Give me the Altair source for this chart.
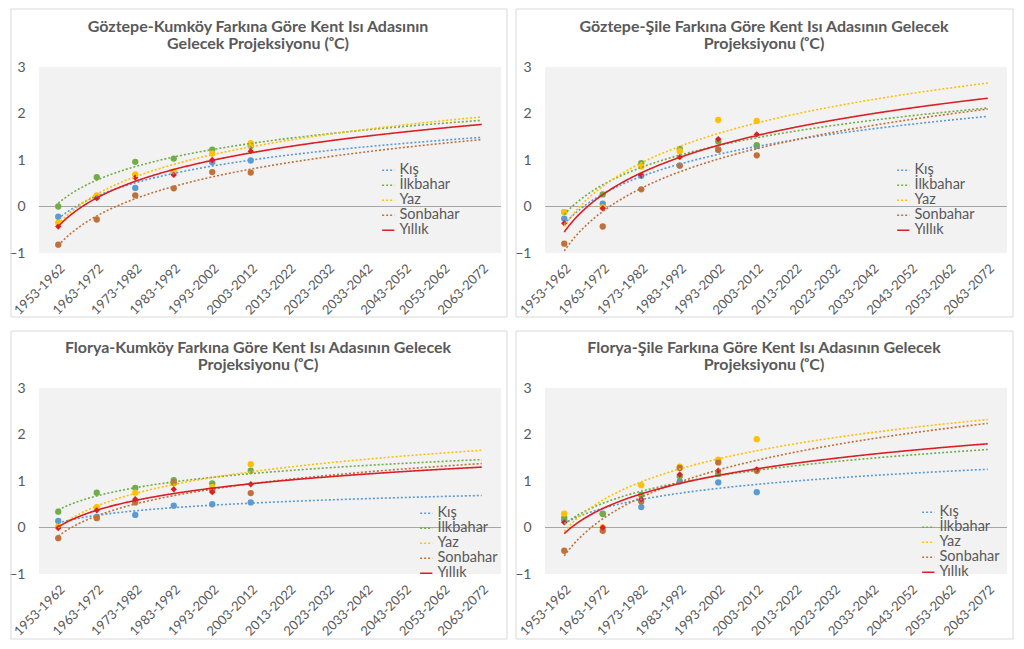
import json
import altair as alt
import pandas as pd

PERIODS = ["1953-1962", "1963-1972", "1973-1982", "1983-1992", "1993-2002", "2003-2012",
           "2013-2022", "2023-2032", "2033-2042", "2043-2052", "2053-2062", "2063-2072"]
SERIES = ["Kış", "İlkbahar", "Yaz", "Sonbahar", "Yıllık"]
COLORS = ["#5B9BD5", "#70AD47", "#FFC000", "#C0713A", "#DA1F26"]

# Göztepe-Kumköy
GK_KIS = [-0.22, 0.20, 0.40, 0.73, 0.95, 0.99]
GK_ILKBAHAR = [0.00, 0.63, 0.96, 1.03, 1.22, 1.30]
GK_YAZ = [-0.35, 0.24, 0.69, 0.75, 1.14, 1.36]
GK_SONBAHAR = [-0.82, -0.28, 0.24, 0.39, 0.74, 0.73]
GK_YILLIK = [-0.43, 0.18, 0.62, 0.68, 1.00, 1.19]

# Göztepe-Şile
GS_KIS = [-0.26, 0.06, 0.66, 0.88, 1.22, 1.30]
GS_ILKBAHAR = [-0.12, 0.26, 0.93, 1.24, 1.40, 1.32]
GS_YAZ = [-0.12, -0.02, 0.86, 1.19, 1.86, 1.84]
GS_SONBAHAR = [-0.80, -0.43, 0.37, 0.88, 1.22, 1.10]
GS_YILLIK = [-0.36, -0.04, 0.67, 1.06, 1.45, 1.55]

# Florya-Kumköy
FK_KIS = [0.14, 0.23, 0.27, 0.47, 0.50, 0.54]
FK_ILKBAHAR = [0.34, 0.75, 0.85, 1.02, 0.95, 1.22]
FK_YAZ = [0.02, 0.44, 0.75, 0.95, 0.87, 1.36]
FK_SONBAHAR = [-0.23, 0.20, 0.54, 0.97, 0.80, 0.74]
FK_YILLIK = [-0.01, 0.37, 0.61, 0.82, 0.76, 0.93]

# Florya-Şile
FS_KIS = [0.15, 0.30, 0.44, 0.99, 0.97, 0.76]
FS_ILKBAHAR = [0.21, 0.29, 0.70, 1.10, 1.15, 1.23]
FS_YAZ = [0.30, 0.00, 0.91, 1.31, 1.46, 1.90]
FS_SONBAHAR = [-0.50, -0.07, 0.56, 1.28, 1.40, 1.22]
FS_YILLIK = [0.11, 0.00, 0.61, 1.14, 1.22, 1.25]

TITLES = [
    ["Göztepe-Kumköy Farkına Göre Kent Isı Adasının", "Gelecek Projeksiyonu (ᵒC)"],
    ["Göztepe-Şile Farkına Göre Kent Isı Adasının Gelecek", "Projeksiyonu (ᵒC)"],
    ["Florya-Kumköy Farkına Göre Kent Isı Adasının Gelecek", "Projeksiyonu (ᵒC)"],
    ["Florya-Şile Farkına Göre Kent Isı Adasının Gelecek", "Projeksiyonu (ᵒC)"],
]

TXT = "#595959"
FONT = "Lato"
W, H = 462, 186

label_expr = json.dumps(PERIODS) + "[datum.value - 1]"


def panel(title, lists, lx, ly, bx0, by0, bx1, by1):
    rows = []
    for name, vals in zip(SERIES, lists):
        for i, v in enumerate(vals):
            rows.append({"series": name, "idx": i + 1, "val": v})
    df = pd.DataFrame(rows)

    x = alt.X("idx:Q", scale=alt.Scale(domain=[0.5, 12.5], nice=False, zero=False),
              axis=alt.Axis(values=list(range(1, 13)), labelExpr=label_expr, labelAngle=-45,
                            labelAlign="right", labelBaseline="middle", title=None, grid=False,
                            domain=False, ticks=False, labelFontSize=13, labelColor=TXT,
                            labelFont=FONT, labelPadding=13, labelOffset=4, labelOverlap=False))
    y = alt.Y("val:Q", scale=alt.Scale(domain=[-1, 3], nice=False, zero=False),
              axis=alt.Axis(values=[-1, 0, 1, 2, 3], title=None, domain=False, ticks=False,
                            gridColor="#DADADA", gridWidth=1, labelFontSize=14, labelColor=TXT,
                            labelFont=FONT, labelPadding=14))
    color = alt.Color("series:N", scale=alt.Scale(domain=SERIES, range=COLORS),
                      legend=alt.Legend(orient="none", legendX=lx, legendY=ly, title=None,
                                        labelFont=FONT, labelFontSize=14.5, labelColor=TXT,
                                        symbolType="stroke", symbolSize=150, symbolStrokeWidth=1.6,
                                        rowPadding=0, labelOffset=4))
    dash = alt.StrokeDash("series:N",
                          scale=alt.Scale(domain=SERIES, range=[[2, 2], [2, 2], [2, 2], [2, 2], [1, 0]]),
                          legend=alt.Legend(orient="none", legendX=lx, legendY=ly, title=None))
    width = alt.StrokeWidth("series:N",
                            scale=alt.Scale(domain=SERIES, range=[1.6, 1.6, 1.6, 1.6, 2.3]),
                            legend=None)

    frame = alt.Chart(alt.Data(values=[{}])).mark_rect(
        fillOpacity=0, stroke="#D9D9D9", strokeWidth=1
    ).encode(x=alt.value(bx0), x2=alt.value(bx1), y=alt.value(by0), y2=alt.value(by1))

    zero = alt.Chart(alt.Data(values=[{}])).mark_rule(color="#A6A6A6", strokeWidth=1.2).encode(
        y=alt.datum(0))

    base = alt.Chart(df)
    pts = base.mark_point(filled=True, opacity=1).encode(
        x=x, y=y,
        color=alt.Color("series:N", scale=alt.Scale(domain=SERIES, range=COLORS), legend=None),
        shape=alt.Shape("series:N", scale=alt.Scale(domain=SERIES,
                                                    range=["circle", "circle", "circle", "circle", "diamond"]),
                        legend=None),
        size=alt.Size("series:N", scale=alt.Scale(domain=SERIES, range=[40, 40, 40, 40, 75]), legend=None),
    )
    lines = base.transform_regression(
        "idx", "val", groupby=["series"], method="log", extent=[1, 12]
    ).mark_line().encode(x=x, y=y, color=color, strokeDash=dash, strokeWidth=width)

    return alt.layer(frame, zero, pts, lines).resolve_scale(
        color="independent", shape="independent", size="independent",
        strokeDash="independent", strokeWidth="independent"
    ).properties(
        width=W, height=H,
        title=alt.TitleParams(text=title, fontSize=16, font=FONT, fontWeight="bold", color=TXT,
                              anchor="middle", frame="group", dx=-12, offset=by0 + 15, lineHeight=17),
    )


p1 = panel(TITLES[0], [GK_KIS, GK_ILKBAHAR, GK_YAZ, GK_SONBAHAR, GK_YILLIK], 342, 96, -28, -58, 468, 250)
p2 = panel(TITLES[1], [GS_KIS, GS_ILKBAHAR, GS_YAZ, GS_SONBAHAR, GS_YILLIK], 351, 96, -29, -58, 468, 250)
p3 = panel(TITLES[2], [FK_KIS, FK_ILKBAHAR, FK_YAZ, FK_SONBAHAR, FK_YILLIK], 380, 118, -28, -57, 468, 251)
p4 = panel(TITLES[3], [FS_KIS, FS_ILKBAHAR, FS_YAZ, FS_SONBAHAR, FS_YILLIK], 376, 117, -29, -57, 468, 251)

chart = alt.concat(p1, p2, p3, p4, columns=2, spacing={"row": 135, "column": 44}, bounds="flush").resolve_scale(
    color="independent", strokeDash="independent", strokeWidth="independent", shape="independent",
    size="independent"
).properties(padding=0, background="white").configure_view(fill="#F2F2F2", strokeWidth=0)

chart.save("out.html", embed_options={"renderer": "svg", "actions": False})
